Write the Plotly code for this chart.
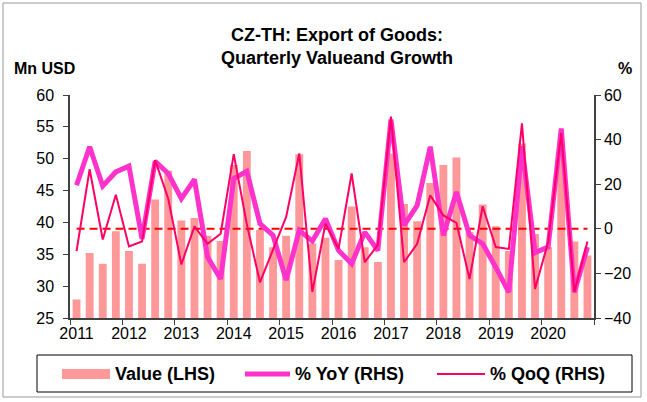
import plotly.graph_objects as go

# Quarterly export of goods, CZ -> TH, 2011Q1 .. 2020Q4
years = ["2011", "2012", "2013", "2014", "2015", "2016", "2017", "2018", "2019", "2020"]

value_mn_usd = [27.9, 35.2, 33.5, 38.6, 35.5, 33.5, 43.6, 48.1,
                40.3, 40.7, 37.9, 37.1, 49.0, 51.2, 38.8, 36.1,
                37.9, 50.7, 36.7, 37.6, 34.1, 42.5, 36.1, 33.8,
                50.8, 42.9, 40.2, 46.2, 49.0, 50.2, 38.5, 42.8,
                39.4, 35.5, 52.4, 38.2, 36.1, 51.0, 37.0, 34.8]

yoy_pct = [19.5, 36.8, 19.2, 25.5, 28.1, -4.5, 30.3, 24.8,
           13.5, 22.1, -12.7, -22.5, 22.5, 25.8, 2.3, -3.0,
           -23.0, -0.7, -5.5, 4.5, -9.7, -15.7, -1.5, -9.7,
           49.0, 1.5, 10.5, 36.8, -3.0, 16.5, -3.0, -6.7,
           -17.2, -28.5, 37.0, -10.7, -8.2, 45.0, -28.5, -8.2]

qoq_pct = [-10.0, 26.7, -4.8, 15.3, -7.9, -5.7, 30.8, 13.5,
           -16.0, 1.1, -6.7, -2.2, 33.5, 2.0, -24.0, -9.0,
           5.3, 33.8, -28.3, 2.3, -9.0, 24.8, -15.0, -7.2,
           50.3, -15.0, -6.7, 15.0, 6.0, 2.6, -22.5, 10.1,
           -8.2, -9.0, 47.3, -27.0, -5.9, 43.0, -28.3, -5.7]

zero_line = [0, 0]

n = len(value_mn_usd)
xq = list(range(n))

BAR_COLOR = "#FF9999"
YOY_COLOR = "#FF33CC"
QOQ_COLOR = "#FF0066"
FONT = "Liberation Sans, Arial, sans-serif"

W, H = 647, 402
PL, PR, PT, PB = 70, 594, 95, 318


def px(x):
    return (x - PL) / (PR - PL)


def py(y):
    return (PB - y) / (PB - PT)


fig = go.Figure()
fig.add_trace(go.Bar(x=xq, y=value_mn_usd, marker=dict(color=BAR_COLOR, line_width=0),
                     width=0.6, name="Value (LHS)", showlegend=False))
fig.add_trace(go.Scatter(x=[0, n - 1], y=zero_line, yaxis="y2", mode="lines",
                         line=dict(color="#FF0000", width=2, dash="8px,5px"),
                         showlegend=False, hoverinfo="skip"))
fig.add_trace(go.Scatter(x=xq, y=yoy_pct, yaxis="y2", mode="lines",
                         line=dict(color=YOY_COLOR, width=5), name="% YoY (RHS)",
                         showlegend=False))
fig.add_trace(go.Scatter(x=xq, y=qoq_pct, yaxis="y2", mode="lines",
                         line=dict(color=QOQ_COLOR, width=2), name="% QoQ (RHS)",
                         showlegend=False))

axis_common = dict(showgrid=False, zeroline=False, showline=True, linecolor="#404040",
                   linewidth=1.5, ticks="outside", ticklen=5, tickcolor="#404040",
                   tickfont=dict(family=FONT, size=16, color="#000000"))

fig.update_layout(
    width=W, height=H,
    margin=dict(l=PL, r=W - PR, t=PT, b=H - PB),
    paper_bgcolor="white", plot_bgcolor="white",
    bargap=0.4,
    xaxis=dict(range=[-0.5, n - 0.5], tickmode="array",
               tickvals=[4 * i for i in range(len(years))], ticktext=years,
               showgrid=False, zeroline=False, showline=True, linecolor="#404040",
               linewidth=1.5, ticks="", tickfont=dict(family=FONT, size=16, color="#000000"),
               minor=dict(tickmode="array", tickvals=[4 * i - 0.5 for i in range(len(years) + 1)],
                          ticks="outside", ticklen=5, tickcolor="#404040", showgrid=False)),
    yaxis=dict(range=[25, 60], dtick=5, ticklabelstandoff=6, **axis_common),
    yaxis2=dict(range=[-40, 60], dtick=20, overlaying="y", side="right", **axis_common),
)

annotations = [
    dict(text="<b>CZ-TH: Export of Goods:</b>", x=px(337), y=py(35), font=dict(size=18)),
    dict(text="<b>Quarterly Valueand Growth</b>", x=px(337), y=py(58), font=dict(size=18)),
    dict(text="<b>Mn USD</b>", x=px(12), y=py(68), xanchor="left", font=dict(size=16)),
    dict(text="<b>%</b>", x=px(625), y=py(68), font=dict(size=16)),
    dict(text="<b>Value (LHS)</b>", x=px(113), y=py(374), xanchor="left", font=dict(size=18)),
    dict(text="<b>% YoY (RHS)</b>", x=px(293), y=py(374), xanchor="left", font=dict(size=18)),
    dict(text="<b>% QoQ (RHS)</b>", x=px(488), y=py(374), xanchor="left", font=dict(size=18)),
]
for a in annotations:
    a.setdefault("xanchor", "center")
    a.update(xref="paper", yref="paper", yanchor="middle", showarrow=False)
    a["font"] = dict(family=FONT, color="#000000", **a["font"])
fig.update_layout(annotations=annotations)

shapes = [
    # outer frame
    dict(type="rect", x0=px(3), x1=px(641), y0=py(397), y1=py(3),
         line=dict(color="#999999", width=1)),
    # legend box
    dict(type="rect", x0=px(37), x1=px(632), y0=py(392), y1=py(355),
         line=dict(color="#000000", width=1)),
    # legend swatches
    dict(type="rect", x0=px(62), x1=px(110), y0=py(379), y1=py(369),
         fillcolor=BAR_COLOR, line=dict(width=0)),
    dict(type="line", x0=px(245), x1=px(290), y0=py(374), y1=py(374),
         line=dict(color=YOY_COLOR, width=5)),
    dict(type="line", x0=px(437), x1=px(485), y0=py(374), y1=py(374),
         line=dict(color=QOQ_COLOR, width=2)),
]
for s in shapes:
    s.update(xref="paper", yref="paper")
fig.update_layout(shapes=shapes)

fig.write_html("out.html")
